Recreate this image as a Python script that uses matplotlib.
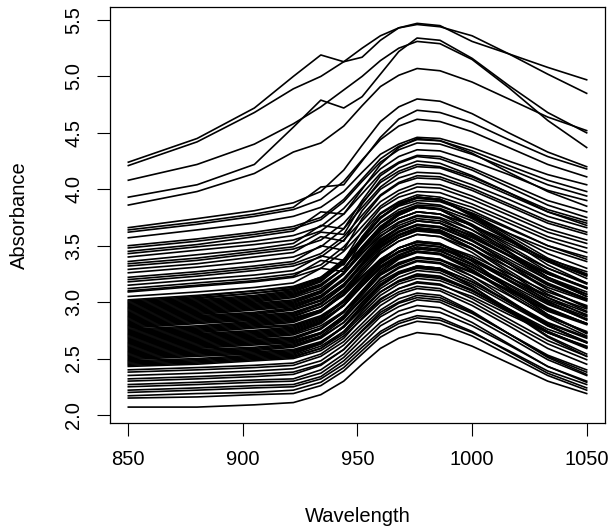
import matplotlib
matplotlib.use("Agg")
import matplotlib.pyplot as plt
import numpy as np

plt.rcParams['font.family'] = ['Liberation Sans', 'DejaVu Sans']

wavelengths = [850, 880, 905, 922, 934, 944, 952, 960, 968, 976, 986, 1000, 1016, 1033, 1050]

top_spectra = [
    [4.24, 4.45, 4.72, 5.00, 5.19, 5.13, 5.17, 5.32, 5.43, 5.47, 5.45, 5.31, 5.20, 5.08, 4.97],
    [4.21, 4.42, 4.68, 4.89, 5.00, 5.13, 5.25, 5.36, 5.43, 5.46, 5.44, 5.36, 5.20, 5.02, 4.85],
    [4.08, 4.22, 4.40, 4.58, 4.73, 4.88, 5.00, 5.14, 5.25, 5.31, 5.29, 5.15, 4.90, 4.61, 4.37],
    [3.93, 4.04, 4.22, 4.55, 4.79, 4.72, 4.82, 5.02, 5.22, 5.34, 5.32, 5.16, 4.92, 4.68, 4.50],
    [3.86, 3.98, 4.14, 4.33, 4.41, 4.56, 4.74, 4.91, 5.01, 5.07, 5.05, 4.95, 4.80, 4.64, 4.52],
    [3.66, 3.74, 3.81, 3.88, 3.98, 4.17, 4.39, 4.60, 4.73, 4.80, 4.78, 4.67, 4.50, 4.33, 4.20],
    [3.64, 3.71, 3.78, 3.84, 4.02, 4.04, 4.25, 4.46, 4.62, 4.70, 4.68, 4.59, 4.44, 4.29, 4.18],
    [3.62, 3.69, 3.76, 3.82, 3.91, 4.07, 4.26, 4.44, 4.56, 4.62, 4.60, 4.51, 4.37, 4.22, 4.11],
    [3.57, 3.64, 3.70, 3.76, 3.84, 3.98, 4.15, 4.31, 4.40, 4.46, 4.45, 4.37, 4.25, 4.13, 4.04],
]

upper_spectra = [
    [3.50, 3.56, 3.62, 3.67, 3.75, 3.91, 4.09, 4.27, 4.38, 4.44, 4.43, 4.34, 4.21, 4.08, 3.98],
    [3.48, 3.54, 3.60, 3.65, 3.73, 3.89, 4.07, 4.24, 4.35, 4.41, 4.40, 4.31, 4.18, 4.04, 3.94],
    [3.45, 3.51, 3.58, 3.63, 3.80, 3.78, 4.00, 4.22, 4.37, 4.45, 4.43, 4.32, 4.15, 3.98, 3.85],
    [3.43, 3.49, 3.54, 3.59, 3.67, 3.83, 4.01, 4.18, 4.29, 4.35, 4.34, 4.25, 4.13, 3.99, 3.90],
    [3.40, 3.46, 3.51, 3.55, 3.63, 3.78, 3.96, 4.14, 4.24, 4.30, 4.29, 4.19, 4.05, 3.90, 3.80],
    [3.36, 3.42, 3.47, 3.52, 3.68, 3.65, 3.90, 4.12, 4.23, 4.29, 4.27, 4.17, 4.02, 3.86, 3.75],
    [3.34, 3.39, 3.45, 3.49, 3.62, 3.60, 3.87, 4.08, 4.19, 4.25, 4.23, 4.12, 3.97, 3.80, 3.68],
    [3.32, 3.37, 3.43, 3.47, 3.55, 3.70, 3.88, 4.06, 4.16, 4.22, 4.20, 4.11, 3.97, 3.82, 3.72],
    [3.29, 3.34, 3.40, 3.44, 3.58, 3.54, 3.81, 4.00, 4.10, 4.15, 4.14, 4.04, 3.91, 3.76, 3.66],
    [3.26, 3.31, 3.36, 3.40, 3.49, 3.65, 3.84, 4.02, 4.14, 4.20, 4.19, 4.09, 3.95, 3.80, 3.70],
    [3.22, 3.27, 3.32, 3.36, 3.50, 3.46, 3.74, 3.94, 4.05, 4.10, 4.09, 3.99, 3.85, 3.70, 3.60],
    [3.20, 3.25, 3.30, 3.34, 3.43, 3.58, 3.77, 3.95, 4.06, 4.12, 4.11, 4.01, 3.87, 3.72, 3.62],
    [3.18, 3.23, 3.28, 3.32, 3.40, 3.55, 3.72, 3.89, 3.99, 4.05, 4.04, 3.94, 3.80, 3.65, 3.55],
    [3.15, 3.20, 3.24, 3.28, 3.41, 3.37, 3.63, 3.83, 3.93, 3.98, 3.97, 3.87, 3.73, 3.58, 3.48],
    [3.12, 3.17, 3.21, 3.25, 3.33, 3.49, 3.67, 3.85, 3.96, 4.02, 4.01, 3.91, 3.77, 3.62, 3.52],
    [3.10, 3.15, 3.19, 3.23, 3.37, 3.33, 3.58, 3.78, 3.88, 3.93, 3.91, 3.81, 3.66, 3.50, 3.38],
    [3.09, 3.14, 3.18, 3.22, 3.30, 3.45, 3.62, 3.79, 3.89, 3.95, 3.93, 3.84, 3.70, 3.55, 3.44],
    [3.05, 3.09, 3.13, 3.17, 3.30, 3.27, 3.55, 3.75, 3.85, 3.90, 3.89, 3.79, 3.65, 3.50, 3.40],
    [3.02, 3.06, 3.10, 3.14, 3.22, 3.36, 3.54, 3.70, 3.80, 3.86, 3.85, 3.75, 3.61, 3.47, 3.36],
    [3.00, 3.04, 3.08, 3.12, 3.21, 3.37, 3.56, 3.74, 3.86, 3.92, 3.90, 3.78, 3.61, 3.43, 3.30],
]

dense_spectra = [
    [3.01, 3.05, 3.10, 3.13, 3.22, 3.38, 3.57, 3.75, 3.87, 3.93, 3.91, 3.78, 3.59, 3.39, 3.25],
    [2.99, 3.03, 3.08, 3.11, 3.20, 3.36, 3.56, 3.75, 3.86, 3.93, 3.91, 3.77, 3.57, 3.36, 3.21],
    [2.98, 3.02, 3.06, 3.10, 3.19, 3.34, 3.53, 3.71, 3.82, 3.88, 3.86, 3.74, 3.56, 3.37, 3.23],
    [2.97, 3.01, 3.05, 3.09, 3.18, 3.35, 3.55, 3.75, 3.86, 3.93, 3.91, 3.76, 3.55, 3.33, 3.17],
    [2.96, 3.00, 3.04, 3.08, 3.16, 3.30, 3.48, 3.64, 3.74, 3.80, 3.78, 3.68, 3.54, 3.38, 3.27],
    [2.95, 2.99, 3.03, 3.07, 3.15, 3.30, 3.47, 3.64, 3.74, 3.80, 3.78, 3.68, 3.52, 3.36, 3.24],
    [2.94, 2.98, 3.02, 3.06, 3.15, 3.30, 3.49, 3.67, 3.78, 3.84, 3.82, 3.69, 3.50, 3.30, 3.16],
    [2.93, 2.97, 3.01, 3.05, 3.14, 3.30, 3.49, 3.67, 3.79, 3.85, 3.83, 3.72, 3.55, 3.37, 3.24],
    [2.92, 2.96, 3.00, 3.04, 3.12, 3.26, 3.43, 3.59, 3.68, 3.74, 3.72, 3.61, 3.44, 3.26, 3.13],
    [2.91, 2.95, 2.99, 3.02, 3.10, 3.25, 3.43, 3.61, 3.71, 3.77, 3.75, 3.64, 3.47, 3.30, 3.17],
    [2.90, 2.94, 2.98, 3.01, 3.10, 3.26, 3.45, 3.63, 3.74, 3.80, 3.78, 3.64, 3.44, 3.22, 3.07],
    [2.89, 2.93, 2.97, 3.00, 3.09, 3.26, 3.46, 3.66, 3.77, 3.84, 3.82, 3.67, 3.45, 3.22, 3.05],
    [2.88, 2.92, 2.96, 2.99, 3.08, 3.25, 3.46, 3.65, 3.77, 3.84, 3.82, 3.68, 3.48, 3.27, 3.12],
    [2.87, 2.91, 2.95, 2.98, 3.06, 3.21, 3.39, 3.56, 3.66, 3.72, 3.70, 3.58, 3.41, 3.22, 3.09],
    [2.86, 2.90, 2.94, 2.97, 3.05, 3.19, 3.37, 3.53, 3.63, 3.69, 3.67, 3.57, 3.41, 3.25, 3.13],
    [2.85, 2.89, 2.93, 2.96, 3.04, 3.20, 3.38, 3.55, 3.66, 3.72, 3.70, 3.59, 3.42, 3.25, 3.12],
    [2.84, 2.88, 2.91, 2.95, 3.04, 3.20, 3.40, 3.58, 3.70, 3.76, 3.74, 3.60, 3.41, 3.20, 3.05],
    [2.83, 2.87, 2.90, 2.94, 3.02, 3.16, 3.33, 3.49, 3.59, 3.65, 3.63, 3.51, 3.34, 3.15, 3.02],
    [2.82, 2.86, 2.89, 2.93, 3.01, 3.16, 3.34, 3.52, 3.62, 3.68, 3.66, 3.54, 3.36, 3.17, 3.03],
    [2.81, 2.85, 2.88, 2.91, 2.99, 3.14, 3.32, 3.50, 3.60, 3.66, 3.64, 3.51, 3.31, 3.11, 2.96],
    [2.80, 2.84, 2.87, 2.90, 2.99, 3.15, 3.35, 3.54, 3.65, 3.72, 3.70, 3.55, 3.34, 3.11, 2.95],
    [2.79, 2.83, 2.86, 2.89, 2.98, 3.14, 3.33, 3.51, 3.62, 3.68, 3.66, 3.55, 3.38, 3.20, 3.07],
    [2.78, 2.82, 2.85, 2.88, 2.96, 3.10, 3.28, 3.44, 3.54, 3.60, 3.58, 3.47, 3.31, 3.13, 3.01],
    [2.77, 2.81, 2.84, 2.87, 2.96, 3.11, 3.30, 3.48, 3.59, 3.65, 3.63, 3.51, 3.34, 3.16, 3.03],
    [2.76, 2.79, 2.83, 2.86, 2.93, 3.07, 3.23, 3.38, 3.48, 3.53, 3.51, 3.41, 3.25, 3.09, 2.97],
    [2.75, 2.78, 2.82, 2.85, 2.93, 3.06, 3.22, 3.38, 3.48, 3.53, 3.51, 3.39, 3.22, 3.04, 2.91],
    [2.74, 2.77, 2.81, 2.84, 2.93, 3.09, 3.28, 3.46, 3.57, 3.63, 3.61, 3.47, 3.26, 3.04, 2.88],
    [2.73, 2.76, 2.80, 2.83, 2.92, 3.07, 3.25, 3.43, 3.54, 3.60, 3.58, 3.44, 3.23, 3.01, 2.85],
    [2.72, 2.75, 2.79, 2.82, 2.91, 3.07, 3.27, 3.46, 3.57, 3.64, 3.62, 3.48, 3.28, 3.07, 2.92],
    [2.71, 2.74, 2.78, 2.80, 2.88, 3.01, 3.18, 3.34, 3.44, 3.49, 3.47, 3.37, 3.22, 3.06, 2.94],
    [2.70, 2.73, 2.77, 2.79, 2.87, 3.01, 3.19, 3.35, 3.45, 3.51, 3.49, 3.37, 3.19, 3.00, 2.87],
    [2.69, 2.72, 2.75, 2.78, 2.86, 3.02, 3.20, 3.37, 3.48, 3.54, 3.52, 3.39, 3.19, 2.99, 2.84],
    [2.68, 2.71, 2.74, 2.77, 2.85, 3.00, 3.18, 3.35, 3.45, 3.51, 3.49, 3.37, 3.20, 3.02, 2.89],
    [2.67, 2.70, 2.73, 2.76, 2.84, 2.97, 3.14, 3.30, 3.40, 3.45, 3.43, 3.31, 3.13, 2.94, 2.81],
    [2.66, 2.69, 2.72, 2.75, 2.83, 2.97, 3.15, 3.31, 3.41, 3.47, 3.45, 3.33, 3.16, 2.98, 2.85],
    [2.65, 2.68, 2.71, 2.74, 2.82, 2.97, 3.15, 3.32, 3.42, 3.48, 3.46, 3.33, 3.15, 2.95, 2.81],
    [2.64, 2.67, 2.70, 2.73, 2.82, 2.98, 3.18, 3.36, 3.48, 3.54, 3.52, 3.36, 3.13, 2.89, 2.72],
    [2.63, 2.66, 2.69, 2.72, 2.81, 2.97, 3.16, 3.34, 3.45, 3.51, 3.49, 3.34, 3.12, 2.89, 2.73],
    [2.62, 2.65, 2.68, 2.71, 2.79, 2.92, 3.09, 3.25, 3.35, 3.40, 3.38, 3.27, 3.11, 2.93, 2.81],
    [2.61, 2.64, 2.67, 2.69, 2.77, 2.91, 3.08, 3.24, 3.33, 3.39, 3.37, 3.26, 3.10, 2.92, 2.80],
    [2.60, 2.63, 2.66, 2.68, 2.77, 2.92, 3.10, 3.28, 3.39, 3.45, 3.43, 3.31, 3.13, 2.94, 2.81],
    [2.59, 2.62, 2.65, 2.67, 2.76, 2.91, 3.10, 3.28, 3.39, 3.45, 3.43, 3.29, 3.09, 2.88, 2.73],
    [2.58, 2.61, 2.64, 2.66, 2.73, 2.87, 3.02, 3.18, 3.27, 3.32, 3.30, 3.18, 3.00, 2.81, 2.68],
    [2.57, 2.60, 2.63, 2.65, 2.73, 2.88, 3.06, 3.24, 3.34, 3.40, 3.38, 3.23, 3.02, 2.80, 2.64],
    [2.56, 2.59, 2.62, 2.64, 2.72, 2.86, 3.04, 3.20, 3.30, 3.36, 3.34, 3.20, 3.00, 2.79, 2.64],
    [2.55, 2.58, 2.60, 2.63, 2.72, 2.88, 3.08, 3.26, 3.38, 3.44, 3.42, 3.28, 3.07, 2.86, 2.70],
    [2.54, 2.57, 2.59, 2.62, 2.70, 2.85, 3.03, 3.21, 3.31, 3.37, 3.35, 3.23, 3.06, 2.87, 2.74],
    [2.53, 2.56, 2.58, 2.61, 2.69, 2.82, 2.99, 3.15, 3.25, 3.30, 3.28, 3.16, 2.98, 2.79, 2.65],
    [2.52, 2.55, 2.57, 2.60, 2.68, 2.82, 3.00, 3.16, 3.26, 3.32, 3.30, 3.18, 3.01, 2.82, 2.69],
    [2.51, 2.54, 2.56, 2.58, 2.65, 2.78, 2.94, 3.09, 3.18, 3.23, 3.21, 3.10, 2.94, 2.76, 2.64],
    [2.50, 2.53, 2.55, 2.57, 2.64, 2.78, 2.94, 3.09, 3.19, 3.24, 3.22, 3.10, 2.92, 2.73, 2.59],
    [2.49, 2.52, 2.54, 2.56, 2.64, 2.78, 2.96, 3.12, 3.22, 3.28, 3.26, 3.13, 2.94, 2.74, 2.60],
    [2.48, 2.50, 2.53, 2.55, 2.63, 2.79, 2.97, 3.14, 3.25, 3.31, 3.29, 3.14, 2.93, 2.70, 2.54],
    [2.47, 2.49, 2.52, 2.54, 2.63, 2.78, 2.97, 3.15, 3.26, 3.32, 3.30, 3.14, 2.92, 2.69, 2.52],
    [2.46, 2.48, 2.51, 2.53, 2.61, 2.74, 2.90, 3.06, 3.16, 3.21, 3.19, 3.08, 2.91, 2.73, 2.60],
    [2.45, 2.47, 2.50, 2.52, 2.59, 2.72, 2.88, 3.03, 3.12, 3.17, 3.15, 3.05, 2.89, 2.73, 2.61],
    [2.44, 2.46, 2.49, 2.51, 2.59, 2.74, 2.92, 3.09, 3.19, 3.25, 3.23, 3.11, 2.93, 2.74, 2.60],
    [2.43, 2.45, 2.48, 2.50, 2.57, 2.70, 2.85, 3.00, 3.09, 3.14, 3.12, 3.00, 2.82, 2.63, 2.49],
]

low_spectra = [
    [2.40, 2.42, 2.44, 2.46, 2.54, 2.68, 2.86, 3.02, 3.12, 3.18, 3.16, 3.03, 2.85, 2.66, 2.52],
    [2.38, 2.40, 2.42, 2.44, 2.52, 2.65, 2.81, 2.97, 3.07, 3.12, 3.10, 2.97, 2.79, 2.59, 2.45],
    [2.35, 2.37, 2.39, 2.41, 2.48, 2.62, 2.78, 2.93, 3.03, 3.08, 3.06, 2.92, 2.72, 2.51, 2.36],
    [2.32, 2.34, 2.36, 2.38, 2.45, 2.58, 2.74, 2.89, 2.99, 3.04, 3.02, 2.90, 2.72, 2.53, 2.40],
    [2.30, 2.32, 2.34, 2.36, 2.44, 2.58, 2.75, 2.91, 3.00, 3.06, 3.04, 2.91, 2.72, 2.52, 2.38],
    [2.27, 2.29, 2.31, 2.32, 2.40, 2.54, 2.71, 2.87, 2.96, 3.02, 3.00, 2.87, 2.69, 2.49, 2.35],
    [2.25, 2.27, 2.29, 2.30, 2.37, 2.51, 2.67, 2.82, 2.92, 2.97, 2.95, 2.82, 2.63, 2.43, 2.29],
    [2.22, 2.24, 2.26, 2.27, 2.34, 2.48, 2.63, 2.79, 2.88, 2.93, 2.91, 2.79, 2.62, 2.43, 2.30],
    [2.20, 2.22, 2.24, 2.25, 2.32, 2.45, 2.60, 2.74, 2.83, 2.88, 2.86, 2.74, 2.56, 2.37, 2.24],
    [2.17, 2.19, 2.20, 2.22, 2.29, 2.42, 2.57, 2.72, 2.81, 2.86, 2.84, 2.73, 2.57, 2.39, 2.27],
    [2.15, 2.16, 2.18, 2.19, 2.26, 2.39, 2.54, 2.69, 2.78, 2.83, 2.81, 2.70, 2.53, 2.35, 2.22],
    [2.07, 2.07, 2.09, 2.11, 2.18, 2.30, 2.45, 2.59, 2.68, 2.73, 2.71, 2.61, 2.46, 2.30, 2.19],
]

x_ticks = [850, 900, 950, 1000, 1050]
y_ticks = [2.0, 2.5, 3.0, 3.5, 4.0, 4.5, 5.0, 5.5]
y_tick_labels = ["2.0", "2.5", "3.0", "3.5", "4.0", "4.5", "5.0", "5.5"]

W, H = 613, 528
fig = plt.figure(figsize=(W / 100, H / 100), dpi=100)
ax = fig.add_axes([110 / W, 1 - 423 / H, (605 - 110) / W, (423 - 7) / H])

all_spectra = top_spectra + upper_spectra + dense_spectra + low_spectra
ax.plot(wavelengths, np.array(all_spectra).T, color='black', lw=1.2,
        solid_joinstyle='round')

ax.set_xlim(842, 1058)
ax.set_ylim(1.929, 5.615)
ax.set_xticks(x_ticks)
ax.set_xticklabels([str(v) for v in x_ticks])
ax.set_yticks(y_ticks)
ax.set_yticklabels(y_tick_labels, rotation=90, va='center')

fs = 14.5
ax.tick_params(axis='both', direction='out', length=9.4, width=0.8,
               labelsize=fs, color='black')
ax.tick_params(axis='x', pad=10)
ax.tick_params(axis='y', pad=10)
for s in ax.spines.values():
    s.set_linewidth(0.9)
    s.set_color('black')

fig.text(357.5 / W, 1 - 517 / H, 'Wavelength', ha='center', va='center', fontsize=fs)
fig.text(19 / W, 1 - 215 / H, 'Absorbance', ha='center', va='center',
         rotation=90, fontsize=fs)

fig.savefig('out.png', dpi=100)
